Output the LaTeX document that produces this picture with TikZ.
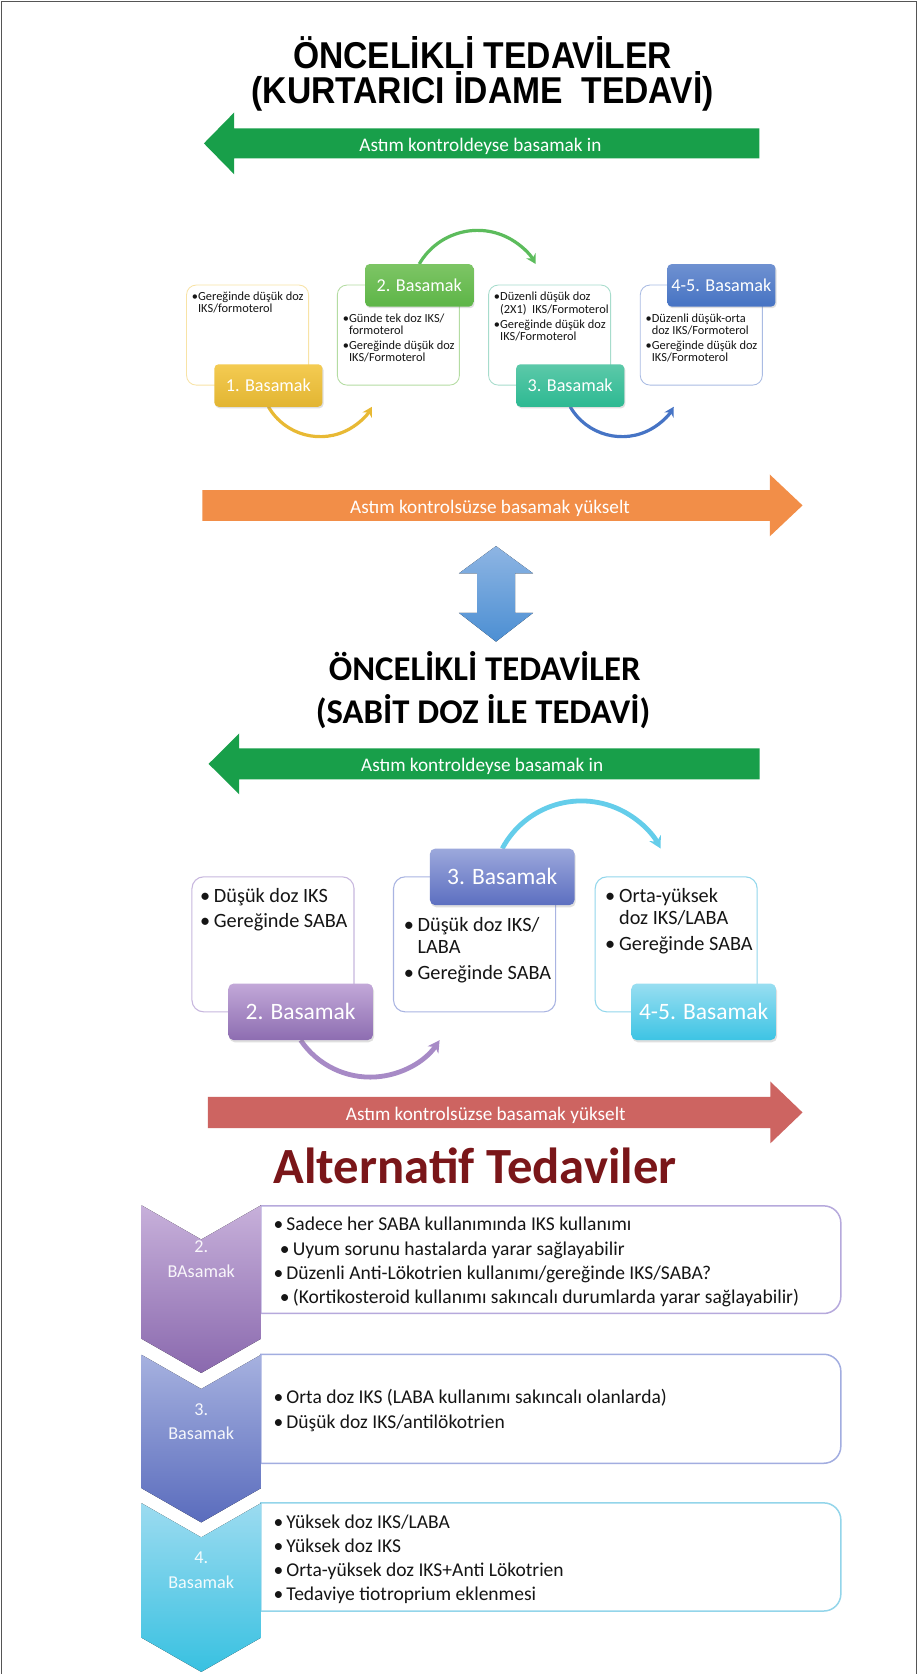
\documentclass[tikz,border=0pt]{standalone}
\usepackage{fontspec}
\setmainfont{Carlito}
\newfontfamily\arialnarrow{Liberation Sans}[FakeStretch=0.9]
\usetikzlibrary{arrows.meta,shadows}

\definecolor{framegray}{HTML}{555555}
\definecolor{arrowgreen}{HTML}{189F4A}
\definecolor{arroworange}{HTML}{F28E48}
\definecolor{arrowred}{HTML}{CD6461}
\definecolor{dbltop}{HTML}{8EB5E3}
\definecolor{dblbot}{HTML}{4C8FD3}
\definecolor{yeltop}{HTML}{F4CB52}
\definecolor{yelbot}{HTML}{E2B532}
\definecolor{yelline}{HTML}{F8E3A6}
\definecolor{yelarc}{HTML}{E8B934}
\definecolor{grntop}{HTML}{7DC565}
\definecolor{grnbot}{HTML}{5DB547}
\definecolor{grnline}{HTML}{B4DCA2}
\definecolor{grnarc}{HTML}{5CBC5C}
\definecolor{tealtop}{HTML}{5CC9A9}
\definecolor{tealbot}{HTML}{2DB992}
\definecolor{tealline}{HTML}{A7DCCC}
\definecolor{blutop}{HTML}{6F91D1}
\definecolor{blubot}{HTML}{4673C3}
\definecolor{bluline}{HTML}{A9BBE3}
\definecolor{bluarc}{HTML}{4674C5}
\definecolor{purtop}{HTML}{C2A8D8}
\definecolor{purbot}{HTML}{8D6DB1}
\definecolor{purline}{HTML}{C7B7DE}
\definecolor{purarc}{HTML}{A78AC6}
\definecolor{vioTop}{HTML}{9CA8DC}
\definecolor{vioBot}{HTML}{5C6FC0}
\definecolor{violine}{HTML}{A9B4E2}
\definecolor{cyntop}{HTML}{98DEF1}
\definecolor{cynbot}{HTML}{3DC4E4}
\definecolor{cynline}{HTML}{92D7EC}
\definecolor{cynarc}{HTML}{64CDEA}
\definecolor{alttitle}{HTML}{7A1619}
\definecolor{chAtop}{HTML}{C7B0DA}
\definecolor{chAbot}{HTML}{8A69AE}
\definecolor{chAline}{HTML}{B6A9DC}
\definecolor{chBtop}{HTML}{A6B1DF}
\definecolor{chBbot}{HTML}{5A6CBD}
\definecolor{chBline}{HTML}{A2ADE0}
\definecolor{chCtop}{HTML}{9CDBF0}
\definecolor{chCbot}{HTML}{38C1E1}
\definecolor{chCline}{HTML}{93D5EA}
\definecolor{txt}{HTML}{151515}

\newcommand\fsSmall{\fontsize{11.6}{11.6}\selectfont}
\newcommand\fsMid{\fontsize{19}{20}\selectfont}
\newcommand\fsAlt{\fontsize{18.3}{22.6}\selectfont}
\newcommand\smb{\textbullet}
\newcommand\midb{\makebox[13pt][l]{\textbullet}}
\newcommand\altb{\textbullet\hspace{3pt}}

\begin{document}
\begin{tikzpicture}[x=1pt,y=-1pt,
  arrowtext/.style={anchor=base,text=white,font=\fontsize{18}{22}\selectfont},
  cboxA/.style={draw,line width=0.8pt,fill=white,rounded corners=9pt,
    minimum width=114.3pt,minimum height=93.7pt,inner sep=0pt},
  clabA/.style={rounded corners=4pt,minimum width=101.3pt,minimum height=39.8pt,
    inner sep=0pt,text=white,font=\fontsize{17}{20}\selectfont,
    drop shadow={opacity=0.25,shadow xshift=1pt,shadow yshift=-1.5pt}},
  cboxB/.style={draw,line width=1pt,fill=white,rounded corners=11pt,
    minimum width=151.8pt,minimum height=126.5pt,inner sep=0pt},
  clabB/.style={rounded corners=5pt,minimum width=135.5pt,minimum height=53pt,
    inner sep=0pt,text=white,font=\fontsize{22}{26}\selectfont,
    drop shadow={opacity=0.25,shadow xshift=1pt,shadow yshift=-2pt}},
  smalltext/.style={anchor=base west,inner sep=0pt,text=txt,font=\fsSmall},
  midtext/.style={anchor=base west,inner sep=0pt,text=txt,font=\fsMid},
  alttext/.style={anchor=base west,inner sep=0pt,text=txt,font=\fsAlt},
  cyclearcA/.style={line width=3pt,-{Stealth[length=9pt,width=10pt]}},
  cyclearcB/.style={line width=4.5pt,-{Stealth[length=11pt,width=12pt]}},
  altbox/.style={line width=1.4pt,fill=white},
  chevlabel/.style={text=white,text opacity=0.92,font=\fontsize{17}{20}\selectfont,inner sep=0pt,anchor=base},
  bigtitle/.style={anchor=base,inner sep=0pt,font={\arialnarrow\bfseries\fontsize{35}{38}\selectfont}}
]
\useasboundingbox (0,0) rectangle (860,1568);
\fill[white] (0,0) rectangle (860,1568);
\draw[framegray,line width=1.5pt] (1.5,1568) -- (1.5,1.5) -- (858.5,1.5) -- (858.5,1568);

% ---------- first title ----------
\node[bigtitle] (titleA1) at (452,64) {ÖNCELİKLİ TEDAVİLER};
\node[bigtitle] (titleA2) at (452,97) {(KURTARICI İDAME~~TEDAVİ)};

% step-down arrow
\fill[arrowgreen] (191,134.3) -- (219.4,105.3) -- (219.4,120.3) -- (711.3,120.3)
  -- (711.3,148.3) -- (219.4,148.3) -- (219.4,163.3) -- cycle;
\node[arrowtext] (downA) at (450,142) {Astım kontroldeyse basamak in};

% ---------- reliever-maintenance cycle ----------
\node[cboxA,draw=yelline]  (b1) at (231.9,313.85) {};
\node[cboxA,draw=grnline]  (b2) at (373.15,313.85) {};
\node[cboxA,draw=tealline] (b3) at (514.8,313.85) {};
\node[cboxA,draw=bluline]  (b4) at (656.9,313.85) {};

\node[smalltext] (t1) at (179.6,281.5) {\begin{tabular}[t]{@{}l@{}l@{}}
  \smb&Gereğinde düşük doz\\ &IKS/formoterol\end{tabular}};
\node[smalltext] (t2) at (321,301.7) {\begin{tabular}[t]{@{}l@{}l@{}}
  \smb&Günde tek doz IKS/\\ &formoterol\\[2.5pt]
  \smb&Gereğinde düşük doz\\ &IKS/Formoterol\end{tabular}};
\node[smalltext] (t3) at (462.5,281.5) {\begin{tabular}[t]{@{}l@{}l@{}}
  \smb&Düzenli düşük doz\\ &(2X1)~~IKS/Formoterol\\[2.5pt]
  \smb&Gereğinde düşük doz\\ &IKS/Formoterol\end{tabular}};
\node[smalltext] (t4) at (604.6,301.7) {\begin{tabular}[t]{@{}l@{}l@{}}
  \smb&Düzenli düşük-orta\\ &doz IKS/Formoterol\\[2.5pt]
  \smb&Gereğinde düşük doz\\ &IKS/Formoterol\end{tabular}};

\coordinate (l1s) at (251.4,381);
\coordinate (l2n) at (392.7,247.3);
\coordinate (l3s) at (534.1,381);
\draw[cyclearcA,yelarc] (l1s) arc[start angle=210,end angle=330,radius=56pt];
\draw[cyclearcA,grnarc] (l2n) arc[start angle=150,end angle=30,radius=63pt];
\draw[cyclearcA,bluarc] (l3s) arc[start angle=210,end angle=330,radius=56pt];

\node[clabA,top color=yeltop,bottom color=yelbot]   (l1) at (251.4,361.1) {1. Basamak};
\node[clabA,top color=grntop,bottom color=grnbot]   (l2) at (392.7,267.3) {2. Basamak};
\node[clabA,top color=tealtop,bottom color=tealbot] (l3) at (534.1,361.1) {3. Basamak};
\node[clabA,top color=blutop,bottom color=blubot]   (l4) at (675.7,267.3) {4-5. Basamak};

% step-up arrow
\fill[arroworange] (189.6,459) -- (721,459) -- (721,444.4) -- (751.7,473.4)
  -- (721,502.4) -- (721,487.8) -- (189.6,487.8) -- cycle;
\node[arrowtext] (upA) at (459,481) {Astım kontrolsüzse basamak yükselt};

% two-way arrow between the two schemes
\fill[top color=dbltop,bottom color=dblbot] (464.6,511.5) -- (499.4,537.1) -- (482.4,537.1)
  -- (482.4,574) -- (499.4,574) -- (464.6,601) -- (429.8,574) -- (446.8,574)
  -- (446.8,537.1) -- (429.8,537.1) -- cycle;

% ---------- second title ----------
\node[anchor=base,inner sep=0pt,font={\bfseries\fontsize{32.5}{36}\selectfont}]
  (titleB1) at (454,637) {ÖNCELİKLİ TEDAVİLER};
\node[anchor=base,inner sep=0pt,font={\bfseries\fontsize{32.5}{36}\selectfont}]
  (titleB2) at (452.5,677.6) {(SABİT DOZ İLE TEDAVİ)};

\fill[arrowgreen] (195.4,715.5) -- (224,687) -- (224,701) -- (711.6,701)
  -- (711.6,730) -- (224,730) -- (224,744) -- cycle;
\node[arrowtext] (downB) at (451.6,723) {Astım kontroldeyse basamak in};

% ---------- fixed-dose cycle ----------
\node[cboxB,draw=purline] (bA) at (255.7,884.55) {};
\node[cboxB,draw=violine] (bB) at (444.5,884.55) {};
\node[cboxB,draw=cynline] (bC) at (633.35,884.55) {};

\node[midtext] (tA) at (187.2,845.7) {\begin{tabular}[t]{@{}l@{}l@{}}
  \midb&Düşük doz IKS\\[3pt] \midb&Gereğinde SABA\end{tabular}};
\node[midtext] (tB) at (378,872.9) {\begin{tabular}[t]{@{}l@{}l@{}}
  \midb&Düşük doz IKS/\\ &LABA\\[4.5pt] \midb&Gereğinde SABA\end{tabular}};
\node[midtext] (tC) at (566.7,845.7) {\begin{tabular}[t]{@{}l@{}l@{}}
  \midb&Orta-yüksek\\ &doz IKS/LABA\\[4.5pt] \midb&Gereğinde SABA\end{tabular}};

\coordinate (lb2s) at (281.6,974.3);
\coordinate (lb3n) at (470.45,794.8);
\draw[cyclearcB,purarc] (lb2s) arc[start angle=214,end angle=326,radius=78.5pt];
\draw[cyclearcB,cynarc] (lb3n) arc[start angle=152,end angle=28,radius=84pt];

\node[clabB,top color=purtop,bottom color=purbot] (lb2) at (281.6,947.75) {2. Basamak};
\node[clabB,top color=vioTop,bottom color=vioBot] (lb3) at (470.45,821.35) {3. Basamak};
\node[clabB,top color=cyntop,bottom color=cynbot] (lb45) at (659.1,947.75) {4-5. Basamak};

\fill[arrowred] (194.6,1027.4) -- (721.5,1027.4) -- (721.5,1013) -- (751.7,1042)
  -- (721.5,1071) -- (721.5,1056.6) -- (194.6,1056.6) -- cycle;
\node[arrowtext] (upB) at (455,1050) {Astım kontrolsüzse basamak yükselt};

% ---------- alternative treatments ----------
\node[anchor=base,inner sep=0pt,text=alttitle,font={\bfseries\fontsize{47.5}{52}\selectfont}]
  (altTitle) at (445,1108.6) {Alternatif Tedaviler};

% text panels, rounded on the right only
\draw[altbox,draw=chAline] (244.4,1129.5) -- (771.6,1129.5) arc[start angle=90,end angle=0,radius=16pt]
  -- (787.6,1214.3) arc[start angle=0,end angle=-90,radius=16pt] -- (244.4,1230.3) -- cycle;
\draw[altbox,draw=chBline] (244.4,1268.5) -- (771.6,1268.5) arc[start angle=90,end angle=0,radius=16pt]
  -- (787.6,1354.6) arc[start angle=0,end angle=-90,radius=16pt] -- (244.4,1370.6) -- cycle;
\draw[altbox,draw=chCline] (244.4,1407.7) -- (771.6,1407.7) arc[start angle=90,end angle=0,radius=16pt]
  -- (787.6,1493) arc[start angle=0,end angle=-90,radius=16pt] -- (244.4,1509) -- cycle;

% chevrons
\fill[top color=chAtop,bottom color=chAbot] (132.6,1129) -- (188.5,1161) -- (244.4,1129)
  -- (244.4,1254) -- (188.5,1286) -- (132.6,1254) -- cycle;
\fill[top color=chBtop,bottom color=chBbot] (132.6,1269) -- (188.5,1301) -- (244.4,1269)
  -- (244.4,1394) -- (188.5,1426) -- (132.6,1394) -- cycle;
\fill[top color=chCtop,bottom color=chCbot] (132.6,1408) -- (188.5,1440) -- (244.4,1408)
  -- (244.4,1534) -- (188.5,1566) -- (132.6,1534) -- cycle;

\node[chevlabel] (chA1) at (188.5,1173.5) {2.};
\node[chevlabel] (chA2) at (188.5,1196.5) {BAsamak};
\node[chevlabel] (chB1) at (188.5,1325.5) {3.};
\node[chevlabel] (chB2) at (188.5,1348.5) {Basamak};
\node[chevlabel] (chC1) at (188.5,1464.5) {4.};
\node[chevlabel] (chC2) at (188.5,1487.5) {Basamak};

\node[alttext] (altA) at (256,1153) {\begin{tabular}[t]{@{}l@{}}
  \altb Sadece her SABA kullanımında IKS kullanımı\\
  \hspace{6pt}\altb Uyum sorunu hastalarda yarar sağlayabilir\\
  \altb Düzenli Anti-Lökotrien kullanımı/gereğinde IKS/SABA?\\
  \hspace{6pt}\altb (Kortikosteroid kullanımı sakıncalı durumlarda yarar sağlayabilir)\end{tabular}};
\node[alttext] (altB) at (256,1315) {\begin{tabular}[t]{@{}l@{}}
  \altb Orta doz IKS (LABA kullanımı sakıncalı olanlarda)\\
  \altb Düşük doz IKS/antilökotrien\end{tabular}};
\node[alttext] (altC) at (256,1431.6) {\begin{tabular}[t]{@{}l@{}}
  \altb Yüksek doz IKS/LABA\\
  \altb Yüksek doz IKS\\
  \altb Orta-yüksek doz IKS+Anti Lökotrien\\
  \altb Tedaviye tiotroprium eklenmesi\end{tabular}};
\end{tikzpicture}
\end{document}
